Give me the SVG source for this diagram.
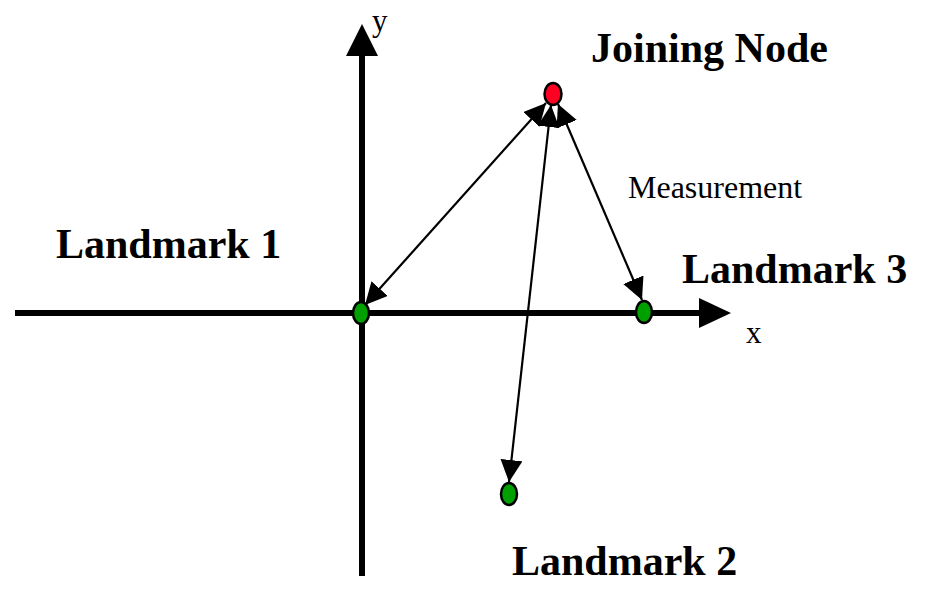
<svg xmlns="http://www.w3.org/2000/svg" width="928" height="602" viewBox="0 0 928 602">
<style>
.axis{stroke:#000;stroke-width:6;fill:none}
.conn{stroke:#000;stroke-width:2.2;fill:none;marker-start:url(#ah);marker-end:url(#ah)}
.lbl{font-family:"Liberation Serif","Times New Roman",serif;font-weight:bold;font-size:42px;fill:#000}
.small{font-family:"Liberation Serif","Times New Roman",serif;font-size:31px;fill:#000}
.meas{font-family:"Liberation Serif","Times New Roman",serif;font-size:32px;fill:#000}
.nodeG{fill:#00a000;stroke:#000;stroke-width:2.5}
.nodeR{fill:#ff0022;stroke:#000;stroke-width:2.5}
</style>
<defs>
<marker id="ah" viewBox="0 0 22 22" refX="22" refY="11" markerWidth="22" markerHeight="22" markerUnits="userSpaceOnUse" orient="auto-start-reverse">
<path d="M0,0 L22,11 L0,22 z" fill="#000"/>
</marker>
</defs>
<rect width="928" height="602" fill="#fff"/>
<g id="axes">
<line class="axis" x1="362" y1="576" x2="362" y2="50"/>
<polygon points="362,24 346,56 378,56" fill="#000"/>
<line class="axis" x1="15" y1="313" x2="705" y2="313"/>
<polygon points="731,313 699,298 699,328" fill="#000"/>
<text class="small" x="372" y="31">y</text>
<text class="small" x="746" y="343">x</text>
</g>
<g id="connectors">
<line class="conn" x1="546" y1="103" x2="365" y2="305"/>
<line class="conn" x1="551" y1="105" x2="509" y2="482"/>
<line class="conn" x1="558" y1="104" x2="642" y2="300"/>
</g>
<g id="joining-node">
<ellipse class="nodeR" cx="553" cy="94" rx="8.5" ry="11"/>
<text class="lbl" x="591" y="62">Joining Node</text>
</g>
<g id="landmark-1">
<ellipse class="nodeG" cx="361" cy="313" rx="8" ry="11"/>
<text class="lbl" x="56" y="258">Landmark 1</text>
</g>
<g id="landmark-2">
<ellipse class="nodeG" cx="509" cy="494" rx="8" ry="11"/>
<text class="lbl" x="512" y="575">Landmark 2</text>
</g>
<g id="landmark-3">
<ellipse class="nodeG" cx="644" cy="312" rx="8" ry="11"/>
<text class="lbl" x="682" y="283">Landmark 3</text>
</g>
<g id="measurement-label">
<text class="meas" x="628" y="198">Measurement</text>
</g>
</svg>
